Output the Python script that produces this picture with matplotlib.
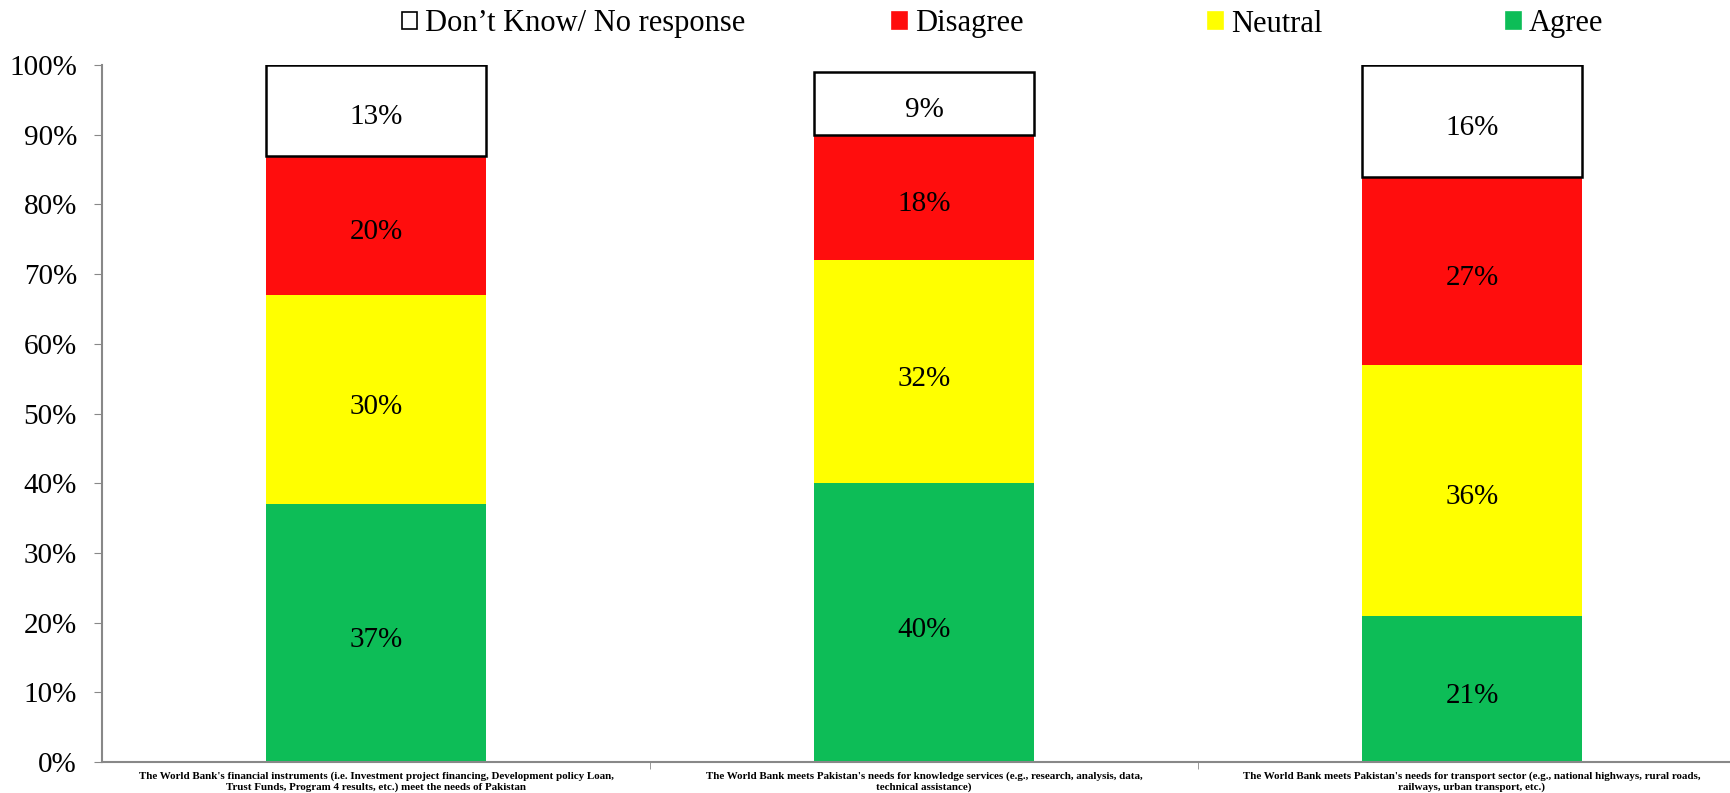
import matplotlib
matplotlib.use("Agg")
import matplotlib.pyplot as plt
from matplotlib.patches import Patch
import numpy as np

categories = [
    "The World Bank's financial instruments (i.e. Investment project financing, Development policy Loan,\nTrust Funds, Program 4 results, etc.) meet the needs of Pakistan",
    "The World Bank meets Pakistan's needs for knowledge services (e.g., research, analysis, data,\ntechnical assistance)",
    "The World Bank meets Pakistan's needs for transport sector (e.g., national highways, rural roads,\nrailways, urban transport, etc.)",
]
agree = [37, 40, 21]
neutral = [30, 32, 36]
disagree = [20, 18, 27]
dont_know = [13, 9, 16]
series_names = ["Agree", "Neutral", "Disagree", "Don\u2019t Know/ No response"]
yticks = [0, 10, 20, 30, 40, 50, 60, 70, 80, 90, 100]

colors = ["#0DBD57", "#FFFF00", "#FF0D0D", "#FFFFFF"]

plt.rcParams['font.family'] = ['Liberation Serif', 'DejaVu Serif']

fig = plt.figure(figsize=(17.31, 7.93), dpi=100)
ax = fig.add_axes([102/1731, 1-762/793, 1644/1731, (762-65)/793])

x = np.arange(len(categories))
w = 0.40
bottom = np.zeros(len(categories))
series = [agree, neutral, disagree, dont_know]
handles = {}
for name, vals, c in zip(series_names, series, colors):
    vals = np.array(vals, dtype=float)
    if c == "#FFFFFF":
        ax.bar(x, vals, w, bottom=bottom, color=c, edgecolor="black", linewidth=1.8)
    else:
        ax.bar(x, vals, w, bottom=bottom, color=c, linewidth=0)
    for xi, b, v in zip(x, bottom, vals):
        ax.annotate(f"{int(v)}%", (xi, b + v/2), xytext=(0, -5), textcoords="offset points",
                    ha="center", va="center", fontsize=21, color="black")
    handles[name] = Patch(facecolor=c, edgecolor="black" if c == "#FFFFFF" else c, linewidth=1.2)
    bottom += vals

ax.set_xlim(-0.5, 2.5)
ax.set_ylim(0, 100)
ax.set_yticks(yticks)
ax.set_yticklabels([f"{t}%" for t in yticks], fontsize=21)
ax.set_xticks(x)
ax.set_xticklabels(categories, fontsize=7.9, fontweight="bold", linespacing=1.15)
ax.tick_params(axis="x", length=0, pad=7)
ax.set_xticks([0.5, 1.5], minor=True)
ax.tick_params(axis="x", which="minor", length=5, color="#888888", direction="out")
ax.tick_params(axis="y", length=6, color="#888888", pad=12)
for s in ["top", "right"]:
    ax.spines[s].set_visible(False)
for s in ["left", "bottom"]:
    ax.spines[s].set_color("#888888")
    ax.spines[s].set_linewidth(1.5)

leg_order = ["Don\u2019t Know/ No response", "Disagree", "Neutral", "Agree"]
leg_x = [402, 892, 1208, 1506]
for name, lx in zip(leg_order, leg_x):
    fig.legend([handles[name]], [name], loc="center left", bbox_to_anchor=(lx/1731, 1-24/793),
               frameon=False, fontsize=22, handlelength=0.5, handleheight=0.5,
               handletextpad=0.25, borderpad=0, borderaxespad=0)

fig.savefig("out.png", dpi=100)
